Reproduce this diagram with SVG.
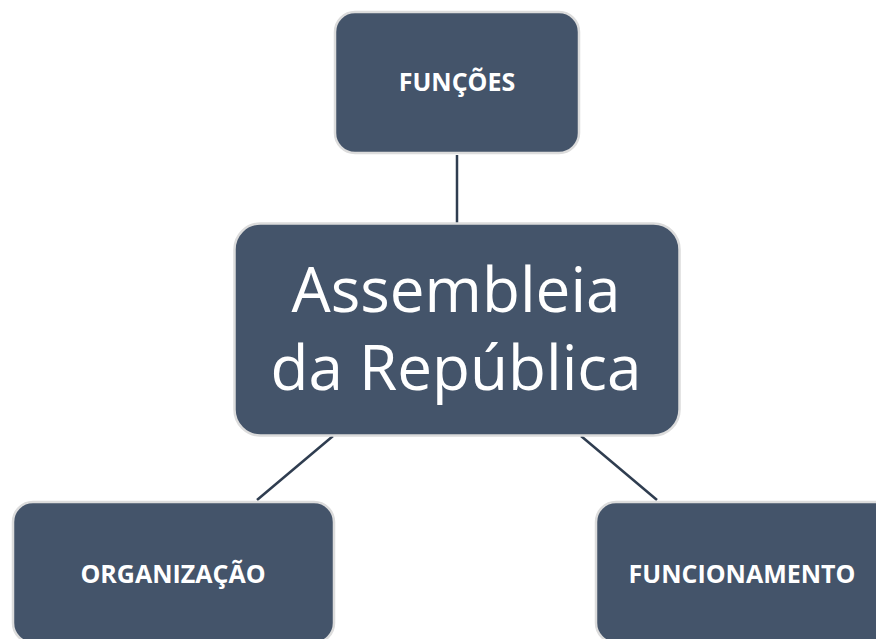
<svg xmlns="http://www.w3.org/2000/svg" width="876" height="639" viewBox="0 0 876 639">
<style>
.box{fill:#44546a;stroke:#dcdcdc;stroke-width:2.5}
.lbl{font-family:"Open Sans","Liberation Sans",sans-serif;font-weight:bold;font-size:25px;fill:#ffffff;text-anchor:middle}
.big{font-family:"Open Sans","Liberation Sans",sans-serif;font-size:62px;fill:#ffffff;text-anchor:middle}
.conn{stroke:#2f3d50;stroke-width:2.5;fill:none}
</style>
<rect width="876" height="639" fill="#ffffff"/>
<g id="connectors">
<line class="conn" x1="457" y1="155" x2="457" y2="223"/>
<line class="conn" x1="333" y1="436" x2="257" y2="500"/>
<line class="conn" x1="581" y1="436" x2="657" y2="500"/>
</g>
<g id="funcoes">
<rect class="box" x="335" y="12" width="244" height="141" rx="20"/>
<text class="lbl" x="457" y="91">FUNÇÕES</text>
</g>
<g id="assembleia">
<rect class="box" x="234.5" y="223.5" width="445" height="212" rx="26"/>
<text class="big" x="456" y="312">Assembleia</text>
<text class="big" x="456" y="390">da República</text>
</g>
<g id="organizacao">
<rect class="box" x="13" y="502" width="321" height="141" rx="20"/>
<text class="lbl" x="173" y="583">ORGANIZAÇÃO</text>
</g>
<g id="funcionamento">
<rect class="box" x="596" y="502" width="321" height="141" rx="20"/>
<text class="lbl" x="742" y="583">FUNCIONAMENTO</text>
</g>
</svg>
